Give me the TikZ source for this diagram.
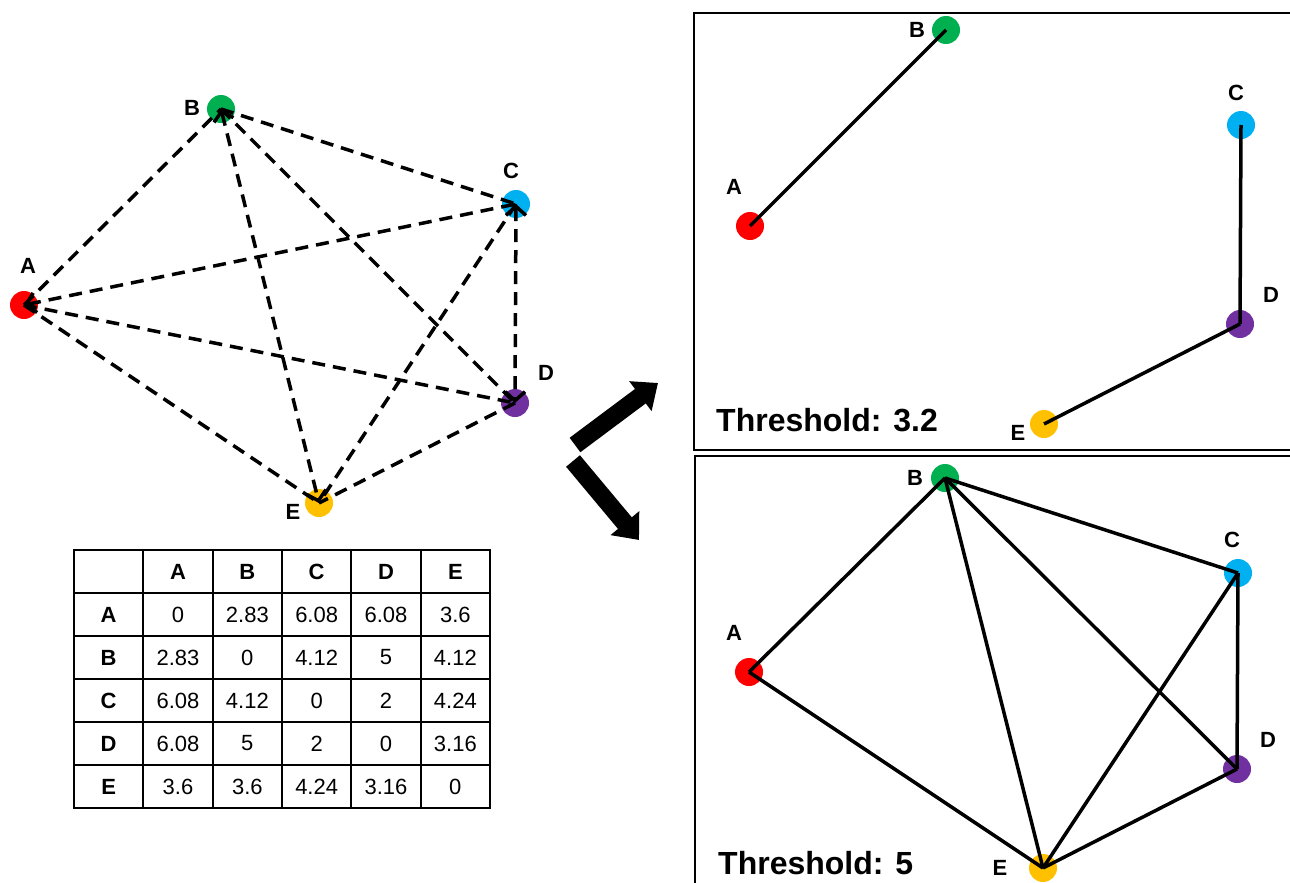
\documentclass[tikz,border=0pt]{standalone}
\usepackage{fontspec}
\setmainfont{Liberation Sans}
\usetikzlibrary{arrows.meta}
\definecolor{cA}{HTML}{FF0000}
\definecolor{cB}{HTML}{00B050}
\definecolor{cC}{HTML}{00B0F0}
\definecolor{cD}{HTML}{7030A0}
\definecolor{cE}{HTML}{FFC000}
\newcommand\tcell[3]{\node[cellbox] (t#1#2) at ({74+69.333*(#2+0.5)},{550+43*(#1+0.5)}) {#3};}
\tikzset{barbtip/.tip={Straight Barb[length=9pt,width=20pt]}}
\begin{document}
\begin{tikzpicture}[x=1pt,y=-1pt,
  dot/.style={circle, inner sep=0pt, minimum size=28pt},
  lbl/.style={font=\fontsize{22}{22}\selectfont\bfseries, inner sep=0pt},
  thr/.style={font=\fontsize{32}{32}\selectfont\bfseries, inner sep=0pt, anchor=west},
  dashedge/.style={line width=3.5pt, dash pattern=on 13pt off 8pt},
  solidedge/.style={line width=3.5pt},
  frame/.style={line width=2pt},
  cellbox/.style={draw, line width=2pt, minimum width=69.333pt, minimum height=43pt, inner sep=0pt, font=\fontsize{22}{22}\selectfont},
  bigarrow/.style={line width=18pt, -{Triangle[length=22pt,width=36pt]}}
]
\useasboundingbox (0,0) rectangle (1290,883);

% ---------- left complete graph ----------
\node[dot, fill=cA] (lA) at (24,305) {};
\node[dot, fill=cB] (lB) at (221,109) {};
\node[dot, fill=cC] (lC) at (516,204) {};
\node[dot, fill=cD] (lD) at (515,403) {};
\node[dot, fill=cE] (lE) at (319,503) {};
\node[lbl] (llA) at (28,266) {A};
\node[lbl] (llB) at (192,108) {B};
\node[lbl] (llC) at (511,171) {C};
\node[lbl] (llD) at (546,373) {D};
\node[lbl] (llE) at (293,512) {E};

\draw[dashedge] (lA.center) -- (lB.center);
\draw[dashedge, barbtip-] (lA.center) -- (lC.center);
\draw[dashedge] (lA.center) -- (lD.center);
\draw[dashedge] (lA.center) -- (lE.center);
\draw[dashedge] (lB.center) -- (lC.center);
\draw[dashedge] (lB.center) -- (lD.center);
\draw[dashedge, barbtip-barbtip] (lB.center) -- (lE.center);
\draw[dashedge, barbtip-barbtip] (lC.center) -- (lD.center);
\draw[dashedge] (lC.center) -- (lE.center);
\draw[dashedge] (lD.center) -- (lE.center);

% ---------- table ----------
\tcell{0}{0}{}
\tcell{0}{1}{\bfseries A}
\tcell{0}{2}{\bfseries B}
\tcell{0}{3}{\bfseries C}
\tcell{0}{4}{\bfseries D}
\tcell{0}{5}{\bfseries E}
\tcell{1}{0}{\bfseries A}
\tcell{1}{1}{0}
\tcell{1}{2}{2.83}
\tcell{1}{3}{6.08}
\tcell{1}{4}{6.08}
\tcell{1}{5}{3.6}
\tcell{2}{0}{\bfseries B}
\tcell{2}{1}{2.83}
\tcell{2}{2}{0}
\tcell{2}{3}{4.12}
\tcell{2}{4}{5}
\tcell{2}{5}{4.12}
\tcell{3}{0}{\bfseries C}
\tcell{3}{1}{6.08}
\tcell{3}{2}{4.12}
\tcell{3}{3}{0}
\tcell{3}{4}{2}
\tcell{3}{5}{4.24}
\tcell{4}{0}{\bfseries D}
\tcell{4}{1}{6.08}
\tcell{4}{2}{5}
\tcell{4}{3}{2}
\tcell{4}{4}{0}
\tcell{4}{5}{3.16}
\tcell{5}{0}{\bfseries E}
\tcell{5}{1}{3.6}
\tcell{5}{2}{3.6}
\tcell{5}{3}{4.24}
\tcell{5}{4}{3.16}
\tcell{5}{5}{0}

% ---------- big arrows ----------
\coordinate (u0) at (575,445);
\coordinate (u1) at (658,383);
\coordinate (d0) at (573,461);
\coordinate (d1) at (639,540);
\draw[bigarrow] (u0) -- (u1);
\draw[bigarrow] (d0) -- (d1);

% ---------- frames ----------
\draw[frame] (1290,13) -- (694,13) -- (694,450) -- (1290,450);
\draw[frame] (1290,456) -- (695,456) -- (695,883);

% ---------- threshold 3.2 ----------
\node[dot, fill=cA] (tA) at (750,226) {};
\node[dot, fill=cB] (tB) at (946,30) {};
\node[dot, fill=cC] (tC) at (1241,125) {};
\node[dot, fill=cD] (tD) at (1240,324) {};
\node[dot, fill=cE] (tE) at (1044,424) {};
\node[lbl] (tlA) at (734,187) {A};
\node[lbl] (tlB) at (917,30) {B};
\node[lbl] (tlC) at (1236,93) {C};
\node[lbl] (tlD) at (1271,295) {D};
\node[lbl] (tlE) at (1018,433) {E};
\draw[solidedge] (tA.center) -- (tB.center);
\draw[solidedge] (tC.center) -- (tD.center);
\draw[solidedge] (tD.center) -- (tE.center);
\node[thr] (th1) at (716,420) {Threshold: 3.2};

% ---------- threshold 5 ----------
\node[dot, fill=cA] (bA) at (749,672) {};
\node[dot, fill=cB] (bB) at (945,478) {};
\node[dot, fill=cC] (bC) at (1238,573) {};
\node[dot, fill=cD] (bD) at (1237,769) {};
\node[dot, fill=cE] (bE) at (1043,868) {};
\node[lbl] (blA) at (734,633) {A};
\node[lbl] (blB) at (915,478) {B};
\node[lbl] (blC) at (1232,540) {C};
\node[lbl] (blD) at (1268,740) {D};
\node[lbl] (blE) at (1000,868) {E};
\draw[solidedge] (bA.center) -- (bB.center);
\draw[solidedge] (bA.center) -- (bE.center);
\draw[solidedge] (bB.center) -- (bC.center);
\draw[solidedge] (bB.center) -- (bD.center);
\draw[solidedge] (bB.center) -- (bE.center);
\draw[solidedge] (bC.center) -- (bD.center);
\draw[solidedge] (bC.center) -- (bE.center);
\draw[solidedge] (bD.center) -- (bE.center);
\node[thr] (th2) at (718,863) {Threshold: 5};
\end{tikzpicture}
\end{document}
